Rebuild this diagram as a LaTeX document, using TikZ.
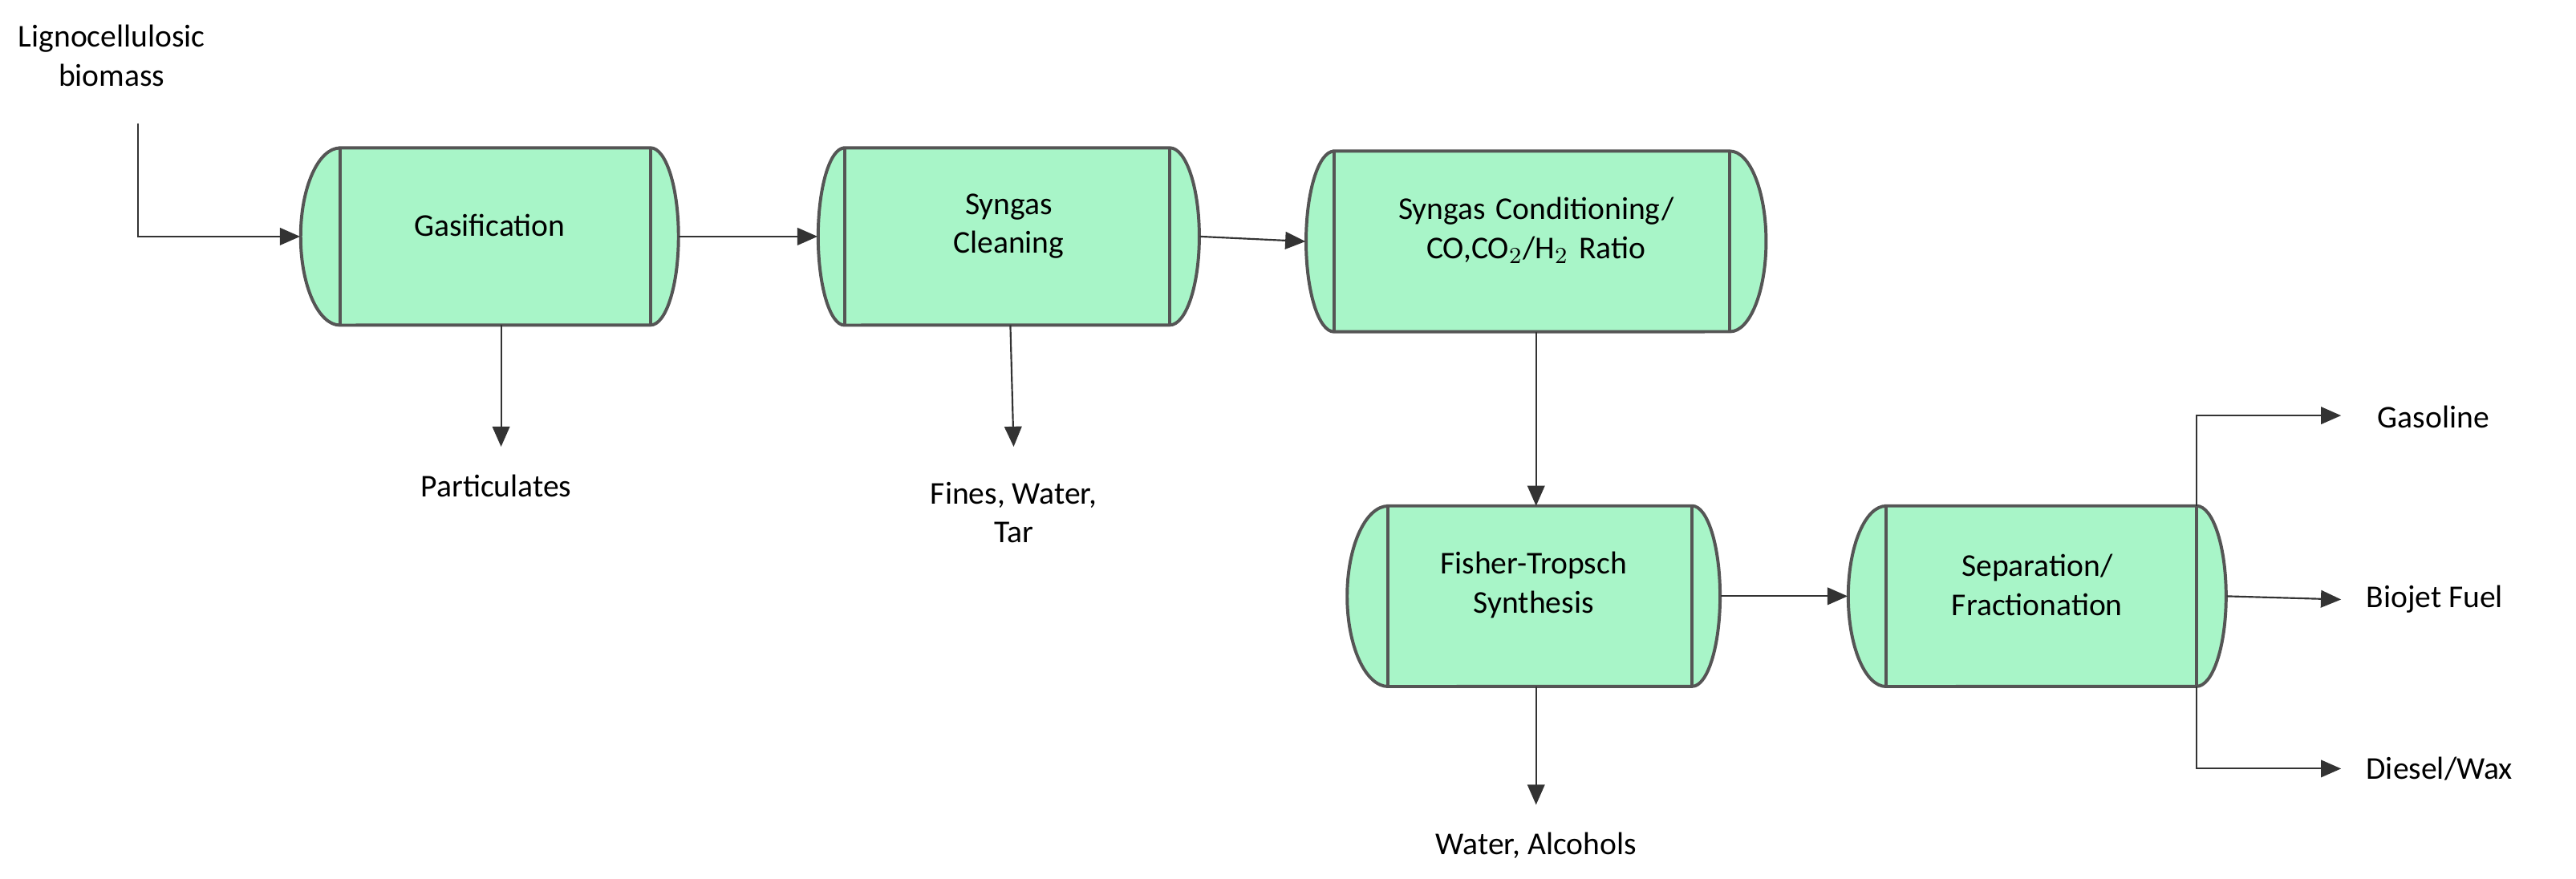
\documentclass[tikz,border=0pt]{standalone}
\usepackage{fontspec}
\setmainfont{Carlito}
\usetikzlibrary{fit,arrows.meta}
\definecolor{vfill}{HTML}{A8F5C8}
\definecolor{vline}{HTML}{555555}
\tikzset{
  vessel/.style={draw=vline, fill=vfill, line width=1.1pt},
  flow/.style={draw=black!80, line width=0.6pt, -{Triangle[length=7pt,width=6pt]}},
  lbl/.style={font=\fontsize{11}{13.5}\selectfont, align=center, inner sep=0},
}
% name, xl, xil, xir, xr, top, bot, text
\newcommand{\vsl}[8]{%
  \pgfmathsetmacro{\rl}{(#3-#2)*0.02}%
  \pgfmathsetmacro{\rr}{(#5-#4)*0.02}%
  \pgfmathsetmacro{\rh}{(#7-#6)*0.01}%
  \draw[vessel] (#3,#6) -- (#4,#6) arc[start angle=90,end angle=-90,x radius=\rr cm,y radius=\rh cm]
     -- (#3,#7) arc[start angle=270,end angle=90,x radius=\rl cm,y radius=\rh cm] -- cycle;
  \draw[vessel, fill=none] (#3,#6) -- (#3,#7) (#4,#6) -- (#4,#7);
  \node[fit={(#2,#6)(#5,#7)}, inner sep=0, lbl] (#1) {#8};
}
\begin{document}
\begin{tikzpicture}[x=0.02cm,y=-0.02cm]
\useasboundingbox (0,0) rectangle (1568,535);
\vsl{gas}{183}{207}{396}{413}{90}{198}{Gasification}
\vsl{clean}{498}{514}{712}{730}{90}{198}{Syngas\\Cleaning}
\vsl{cond}{795}{812}{1053}{1075}{92}{202}{Syngas Conditioning/\\CO,CO$_2$/H$_2$ Ratio}
\vsl{ft}{820}{845}{1030}{1047}{308}{418}{Fisher-Tropsch\\Synthesis}
\vsl{sep}{1125}{1148}{1337}{1355}{308}{418}{Separation/\\Fractionation}

\node[lbl] (bio) at (68,34) {Lignocellulosic\\biomass};
\node[lbl] (part) at (302,296) {Particulates};
\node[lbl] (fines) at (617,312) {Fines, Water,\\Tar};
\node[lbl] (wa) at (935,515) {Water, Alcohols};
\node[lbl, anchor=west] (gasol) at (1447,254) {Gasoline};
\node[lbl, anchor=west] (jet) at (1440,365) {Biojet Fuel};
\node[lbl, anchor=west] (dies) at (1440,468) {Diesel/Wax};

\coordinate (b0) at (84,75);
\draw[flow] (b0) |- (gas.west);
\draw[flow] (gas.east) -- (clean.west);
\draw[flow] (clean.east) -- (cond.west);
\draw[flow] (305,198) -- (305,272);
\draw[flow] (615,198) -- (617,272);
\draw[flow] (935,202) -- (935,308);
\draw[flow] (935,418) -- (935,490);
\draw[flow] (ft.east) -- (sep.west);
\draw[flow] (1337,308) -- (1337,253) -- (1425,253);
\draw[flow] (sep.east) -- (1425,365);
\draw[flow] (1337,418) -- (1337,468) -- (1425,468);
\end{tikzpicture}
\end{document}
